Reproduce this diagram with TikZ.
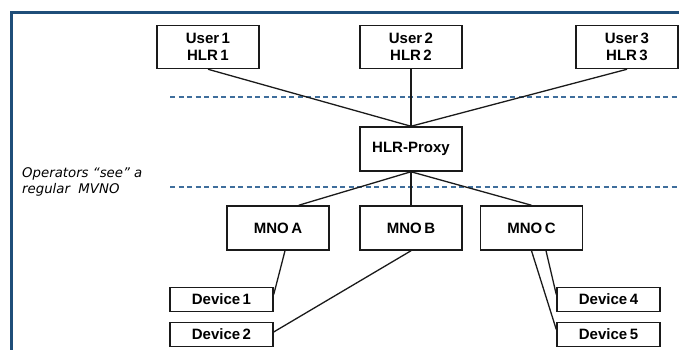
\documentclass[tikz,border=0pt]{standalone}
\usepackage{fontspec}
\setmainfont{Liberation Sans}
\newfontfamily\notefont{DejaVu Sans}
\usetikzlibrary{calc}
\definecolor{framecol}{HTML}{1F4E79}
\definecolor{dashcol}{HTML}{3F6E9C}
\definecolor{boxline}{HTML}{1A1A1A}
\tikzset{
  box/.style={draw=boxline, line width=1.5pt, fill=white, minimum width=102pt,
    minimum height=43pt, inner sep=0pt, align=center,
    font=\fontsize{15}{16.5}\selectfont\bfseries},
  devbox/.style={box, minimum width=103pt, minimum height=24pt},
  link/.style={draw=boxline, line width=1.3pt},
  sep/.style={draw=dashcol, line width=1.5pt, dash pattern=on 5pt off 3.5pt},
  frame/.style={draw=framecol, line width=3pt}
}
\begin{document}
\begin{tikzpicture}[x=1pt,y=-1pt]
\useasboundingbox (0,0) rectangle (682,349);
% frame
\coordinate (fbl) at (11,351);
\coordinate (ftl) at (11,12);
\coordinate (ftr) at (679,12);
\draw[frame] (fbl) -- (ftl) -- (ftr);
% dashed separators
\coordinate (s1a) at (170,97);
\coordinate (s1b) at (679,97);
\coordinate (s2a) at (170,187);
\coordinate (s2b) at (679,187);
\draw[sep] (s1a) -- (s1b);
\draw[sep] (s2a) -- (s2b);
% nodes
\node[box] (u1) at (208,47) {User\,1\\HLR\,1};
\node[box] (u2) at (411,47) {User\,2\\HLR\,2};
\node[box] (u3) at (627,47) {User\,3\\HLR\,3};
\node[box, minimum height=44pt] (hp) at (411,149) {HLR-Proxy};
\node[box, minimum height=44pt] (ma) at (278,228) {MNO\,A};
\node[box, minimum height=44pt] (mb) at (411,228) {MNO\,B};
\node[box, minimum height=44pt] (mc) at (531.5,228) {MNO\,C};
\node[devbox] (d1) at (221.5,299.5) {Device\,1};
\node[devbox] (d2) at (221.5,334.5) {Device\,2};
\node[devbox] (d4) at (608.5,299.5) {Device\,4};
\node[devbox] (d5) at (608.5,334.5) {Device\,5};
% label
\node[anchor=base west, inner sep=0pt, align=left,
  font=\notefont\itshape\fontsize{13.3}{16}\selectfont] (lab) at (22,193)
  {Operators “see” a\\regular\ \ MVNO};
% connectors
\draw[link] (u1.south) -- (hp.north);
\draw[link] (u2.south) -- (hp.north);
\draw[link] (u3.south) -- (hp.north);
\draw[link] (hp.south) -- ($(ma.north)!0.4!(ma.north east)$);
\draw[link] (hp.south) -- (mb.north);
\draw[link] (hp.south) -- (mc.north);
\draw[link] ($(ma.south)+(7,0)$) -- ($(d1.north east)!0.3!(d1.south east)$);
\draw[link] (mb.south) -- ($(d2.north east)!0.4!(d2.south east)$);
\draw[link] ($(mc.south)+(14.5,0)$) -- ($(d4.north west)!0.3!(d4.south west)$);
\draw[link] (mc.south) -- ($(d5.north west)!0.3!(d5.south west)$);
\end{tikzpicture}
\end{document}
